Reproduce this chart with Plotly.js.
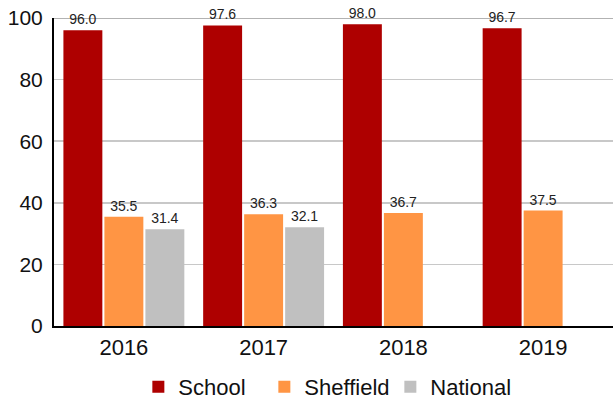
<!DOCTYPE html>
<html><head><meta charset="utf-8">
<script src="https://cdn.plot.ly/plotly-3.0.1.min.js"></script>
<style>html,body{margin:0;padding:0;background:#fff}#chart{width:613px;height:401px}</style>
</head><body><div id="chart"></div>
<script>
const years = ['2016', '2017', '2018', '2019'];
const school = [96.0, 97.6, 98.0, 96.7];
const sheffield = [35.5, 36.3, 36.7, 37.5];
const national = [31.4, 32.1, null, null];
const yTicks = [0, 20, 40, 60, 80, 100];

function fmt(arr){ return arr.map(v => v === null ? '' : v.toFixed(1)); }
function mk(name, vals, color){
  return {type:'bar', name:name, x:years, y:vals, marker:{color:color},
    text:fmt(vals), textposition:'outside', cliponaxis:false,
    textfont:{family:'Liberation Sans, Arial, sans-serif', size:14, color:'#222'},
    hoverinfo:'none'};
}
const data = [mk('School', school, '#ae0000'), mk('Sheffield', sheffield, '#ff9544'), mk('National', national, '#c0c0c0')];
const layout = {
  width:613, height:401,
  margin:{l:54, r:0, t:18, b:75, autoexpand:false},
  barmode:'group', bargap:0.12, bargroupgap:0.05,
  font:{family:'Liberation Sans, Arial, sans-serif', color:'#111'},
  plot_bgcolor:'#fff', paper_bgcolor:'#fff',
  xaxis:{type:'category', showline:true, linecolor:'#000', linewidth:2, ticks:'', tickfont:{size:22}, showgrid:false, ticklabelstandoff:1},
  yaxis:{range:[0,100], tickvals:yTicks, showline:true, linecolor:'#000', linewidth:2, gridcolor:'#c8c8c8', gridwidth:1.5, tickfont:{size:21}, ticks:'', zeroline:false, ticklabelstandoff:5},
  legend:{orientation:'h', x:0.489, xanchor:'center', yref:'container', y:0.035, yanchor:'middle', font:{size:22}, itemwidth:30, entrywidth:81, traceorder:'normal'},
  shapes:[{type:'line', xref:'paper', yref:'y', x0:0, x1:1, y0:100, y1:100, line:{color:'#999', width:1.5}, layer:'below'}],
  showlegend:true
};
Plotly.newPlot('chart', data, layout, {displayModeBar:false, staticPlot:true});
</script></body></html>
